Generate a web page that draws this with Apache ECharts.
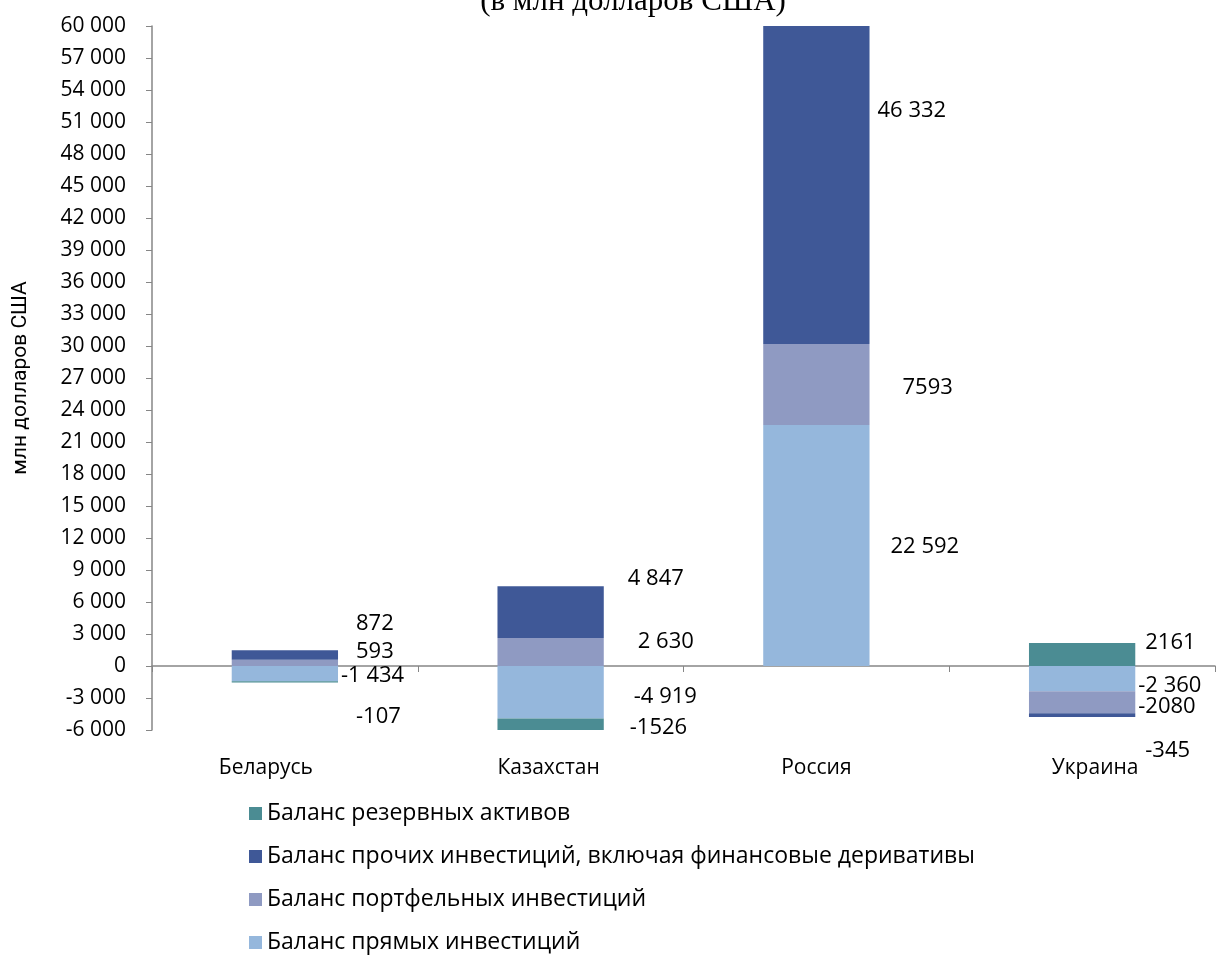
<!DOCTYPE html>
<html>
<head>
<meta charset="utf-8">
<script src="https://cdn.jsdelivr.net/npm/echarts@6/dist/echarts.min.js"></script>
<style>
html,body{margin:0;padding:0;background:#fff;}
#chart{width:1216px;height:961px;}
</style>
</head>
<body>
<div id="chart"></div>
<script>
// ---- data ----
const categories = ['Беларусь', 'Казахстан', 'Россия', 'Украина'];
const seriesNames = [
  'Баланс прямых инвестиций',
  'Баланс портфельных инвестиций',
  'Баланс прочих инвестиций, включая финансовые деривативы',
  'Баланс резервных активов'
];
const directInv    = [-1434, -4919, 22592, -2360];
const portfolioInv = [593, 2630, 7593, -2080];
const otherInv     = [872, 4847, 46332, -345];
const reserveAssets = [-107, -1526, null, 2161];
// label texts as printed in the source
const directLabels    = ['-1 434', '-4 919', '22 592', '-2 360'];
const portfolioLabels = ['593', '2 630', '7593', '-2080'];
const otherLabels     = ['872', '4 847', '46 332', '-345'];
const reserveLabels   = ['-107', '-1526', '', '2161'];
const yTicks = {min: -6000, max: 60000, interval: 3000};
const titleText = '(в млн долларов США)';
const yAxisName = 'млн долларов США';

// ---- label nudges (layout only) ----
const nudges = {
  direct:    [[3, 2], [30, 4], [21, 1], [3, 7]],
  portfolio: [[18, -11], [34, -10], [33, 3], [3, 4]],
  other:     [[18, -31], [24, -33], [8, -74], [10, 36]],
  reserve:   [[18, 35], [26, 3], [0, 0], [10, -12]]
};
// horizontal shift of category labels (layout only): [left pad, right pad]
const catPads = [[0, 38], [0, 4], [0, 0], [26, 0]];

const colors = ['#95B7DC', '#8F9AC2', '#3F5897', '#4B8C93'];
const FONT = 'Open Sans';

function mkSeries(name, values, labels, nudge, color) {
  return {
    name: name,
    type: 'bar',
    stack: 'total',
    barWidth: '40%',
    itemStyle: {color: color},
    data: values.map((v, i) => ({
      value: v,
      label: {
        show: labels[i] !== '',
        position: 'right',
        distance: nudge[i][0],
        offset: [0, nudge[i][1]],
        formatter: () => labels[i]
      }
    })),
    label: {color: '#000', fontFamily: FONT, fontSize: 22}
  };
}

const catRich = {};
catPads.forEach((p, i) => {
  catRich['c' + i] = {fontFamily: FONT, fontSize: 21, color: '#000', padding: [0, p[1], 0, p[0]]};
});

const chart = echarts.init(document.getElementById('chart'));
chart.setOption({
  animation: false,
  backgroundColor: '#fff',
  title: {
    text: titleText,
    left: 628,
    textAlign: 'center',
    top: -19,
    textStyle: {fontFamily: 'Liberation Serif', fontSize: 31, fontWeight: 'normal', color: '#000'}
  },
  grid: {left: 152, right: 1, top: 26, bottom: 231, containLabel: false},
  legend: {
    orient: 'vertical',
    left: 244,
    top: 797,
    itemGap: 20,
    itemWidth: 13,
    itemHeight: 13,
    icon: 'rect',
    data: [seriesNames[3], seriesNames[2], seriesNames[1], seriesNames[0]],
    textStyle: {fontFamily: FONT, fontSize: 23, color: '#000'}
  },
  xAxis: [{
    type: 'category',
    data: categories,
    axisLine: {onZero: true, lineStyle: {color: '#868686', width: 1.5}},
    axisTick: {show: true, length: 6, lineStyle: {color: '#868686'}},
    axisLabel: {show: false}
  }, {
    type: 'category',
    data: categories,
    position: 'bottom',
    axisLine: {show: false},
    axisTick: {show: false},
    axisLabel: {
      show: true, margin: 28, fontFamily: FONT, fontSize: 21, color: '#000',
      formatter: (v, i) => '{c' + i + '|' + v + '}',
      rich: catRich
    }
  }],
  yAxis: {
    type: 'value',
    min: yTicks.min,
    max: yTicks.max,
    interval: yTicks.interval,
    name: yAxisName,
    nameLocation: 'middle',
    nameGap: 121,
    nameTextStyle: {fontFamily: 'Roboto', fontSize: 21, color: '#000'},
    axisLine: {show: true, lineStyle: {color: '#868686', width: 1.5}},
    axisTick: {show: true, length: 6, lineStyle: {color: '#868686'}},
    splitLine: {show: false},
    axisLabel: {
      margin: 26,
      fontFamily: FONT,
      fontSize: 21,
      color: '#000',
      formatter: v => {
        const s = Math.abs(v).toString().replace(/\B(?=(\d{3})+(?!\d))/g, ' ');
        return (v < 0 ? '-' : '') + s;
      }
    }
  },
  series: [
    mkSeries(seriesNames[0], directInv, directLabels, nudges.direct, colors[0]),
    mkSeries(seriesNames[1], portfolioInv, portfolioLabels, nudges.portfolio, colors[1]),
    mkSeries(seriesNames[2], otherInv, otherLabels, nudges.other, colors[2]),
    mkSeries(seriesNames[3], reserveAssets, reserveLabels, nudges.reserve, colors[3])
  ]
});
</script>
</body>
</html>
